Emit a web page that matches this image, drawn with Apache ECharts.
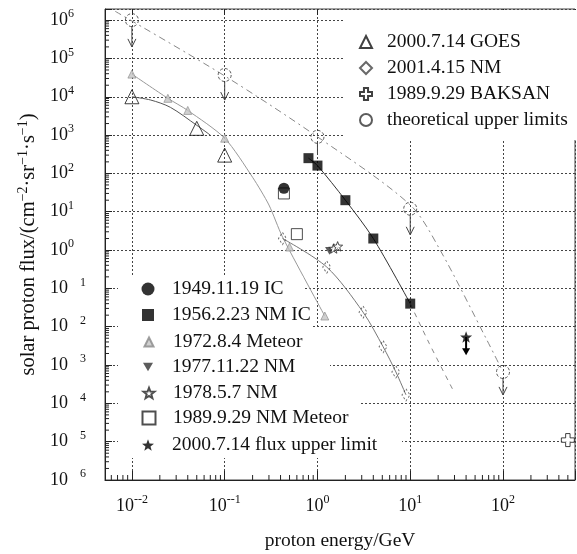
<!DOCTYPE html>
<html><head><meta charset="utf-8">
<script src="https://cdn.jsdelivr.net/npm/echarts@6/dist/echarts.min.js"></script>
<style>html,body{margin:0;padding:0;background:#fff}#c{width:577px;height:554px}</style>
</head><body><div id="c"></div>
<script>
// ---------- data (energy in GeV, flux in cm^-2 sr^-1 s^-1) ----------
const xTickExps = [-2, -1, 0, 1, 2];
const yTickExps = [6, 5, 4, 3, 2, 1, 0, -1, -2, -3, -4, -5, -6];

const goesE = [0.01, 0.05, 0.1];
const goesF = [1.0e4, 1.5e3, 300];
const goesFitE = [0.01, 0.016, 0.026, 0.05, 0.07];
const goesFitF = [1.0e4, 8.2e3, 5.3e3, 1.8e3, 1.0e3];

const meteorE = [0.01, 0.0244, 0.04, 0.1, 0.5, 1.2];
const meteorF = [3.9e4, 9.1e3, 4.4e3, 830, 1.2, 0.019];
const meteorFitE = [0.01, 0.0244, 0.04, 0.1, 0.2, 0.3, 0.42, 1.2];
const meteorFitF = [3.9e4, 9.1e3, 4.4e3, 830, 79, 15, 2.2, 0.019];

const nmE = [0.42, 1.26, 3.1, 5.1, 7.0, 9.0];
const nmF = [2.0, 0.36, 0.024, 3.0e-3, 6.6e-4, 1.66e-4];

const icE = [0.8, 1.0, 2.0, 4.0, 10];
const icF = [250, 160, 20, 2.0, 0.04];
const icExtE = [10, 16, 29];
const icExtF = [0.04, 3.7e-3, 2.2e-4];

const thE = [0.01, 0.1, 1, 10, 100];
const thF = [1.0e6, 3.7e4, 900, 12, 6.6e-4];
const thArrowF = [2.0e5, 8.2e3, 340, 2.5, 1.66e-4];
const thHead = [1, 1, 0, 1, 1];
const thLineE = [0.0066, 0.1, 1, 10, 21, 67, 100];
const thLineF = [1.7e6, 3.5e4, 900, 15, 1.0, 4.5e-3, 6.6e-4];

const ic1949E = [0.435];
const ic1949F = [41];
const nmMet1989E = [0.435, 0.6];
const nmMet1989F = [30, 2.6];
const nm1977E = [1.35];
const nm1977F = [0.95];
const nm1978E = [1.5, 1.65];
const nm1978F = [1.1, 1.25];
const baksanE = [500];
const baksanF = [1.1e-5];
const limitE = [40];
const limitF = [5.4e-3];
const limitLowF = [1.8e-3];

// ---------- helpers ----------
const L = Math.log10;
const pts = (E, F) => E.map((e, i) => [L(e), L(F[i])]);
const X_MIN = -2.29, X_MAX = 2.776, Y_MIN = -6, Y_MAX = 6.29;
const FONT = '"Liberation Serif", "Times New Roman", serif';
const TXT = '#111';

const STAR = 'path://M50 0L62.3 33L97.6 34.5L69.9 56.5L79.4 90.5L50 71L20.6 90.5L30.1 56.5L2.4 34.5L37.7 33Z';
const PLUS = 'path://M33 0H67V33H100V67H67V100H33V67H0V33H33Z';
const DOWNTRI = 'path://M0 0H100L50 87Z';

const isInt = v => Math.abs(v - Math.round(v)) < 1e-6;
const xFmt = v => {
  if (!isInt(v)) return '';
  const e = Math.round(v);
  if (xTickExps.indexOf(e) < 0) return '';
  return e < 0 ? '{b|10}{s|--' + (-e) + '}' : '{b|10}{s|' + e + '}';
};
const yFmt = v => {
  if (!isInt(v)) return '';
  const e = Math.round(v);
  if (yTickExps.indexOf(e) < 0) return '';
  return e < 0 ? '{b|10}{g|' + (-e) + '}' : '{b|10}{s|' + e + '}';
};
const labelRich = {
  b: {fontFamily: FONT, fontSize: 18, color: TXT, lineHeight: 24},
  s: {fontFamily: FONT, fontSize: 12, color: TXT, verticalAlign: 'top'},
  g: {fontFamily: FONT, fontSize: 12, color: TXT, verticalAlign: 'top', padding: [0, 0, 0, 12]}
};

// minor log ticks
const minorX = [];
for (let k = -3; k <= 2; k++) for (let m = 2; m <= 9; m++) {
  const v = k + L(m); if (v > X_MIN && v < X_MAX) minorX.push([v, Y_MIN]);
}
const minorY = [];
for (let k = -6; k <= 6; k++) for (let m = 2; m <= 9; m++) {
  const v = k + L(m); if (v > Y_MIN && v < Y_MAX) minorY.push([X_MIN, v]);
}

const lineSeries = (name, E, F, color, type, smooth) => ({
  type: 'line', name, data: pts(E, F), showSymbol: false, symbol: 'none',
  smooth: smooth, silent: true, z: 2,
  lineStyle: {color, width: 1, type}
});
const scatter = (name, E, F, symbol, size, style) => ({
  type: 'scatter', name, data: pts(E, F), symbol, symbolSize: size, symbolKeepAspect: true,
  itemStyle: style, z: 5, silent: true
});
const NONE = 'rgba(0,0,0,0)';
const LEG_FS = 19.5;

const blItems = [
  {name: '1949.11.19 IC', cy: 289, r: 303, h: 13},
  {name: '1956.2.23 NM IC', cy: 315, r: 312, h: 12},
  {name: '1972.8.4 Meteor', cy: 342, r: 323, h: 9},
  {name: '1977.11.22 NM', cy: 367, r: 330, h: 10},
  {name: '1978.5.7 NM', cy: 393, r: 360, h: 11},
  {name: '1989.9.29 NM Meteor', cy: 418, r: 360, h: 13},
  {name: '2000.7.14 flux upper limit', cy: 445, r: 402, h: 12}
];
const legends = [{
  data: ['2000.7.14 GOES', '2001.4.15 NM', '1989.9.29 BAKSAN', 'theoretical upper limits'],
  orient: 'vertical', left: 345, top: 10, padding: [22, 7, 10, 14],
  itemWidth: 12, itemHeight: 12, itemGap: 6, backgroundColor: '#fff', symbolKeepAspect: true,
  selectedMode: false, z: 10,
  textStyle: {fontFamily: FONT, fontSize: LEG_FS, color: TXT, lineHeight: 20, width: 182, padding: [0, 0, 0, 10]}
}].concat(blItems.map(it => ({
  data: [it.name], orient: 'vertical', left: 118, top: it.cy - 13,
  padding: [3, 0, 3, 30 - it.h / 2],
  itemWidth: it.h, itemHeight: it.h, itemGap: 0, backgroundColor: '#fff', symbolKeepAspect: true,
  selectedMode: false, z: 10,
  textStyle: {fontFamily: FONT, fontSize: LEG_FS, color: TXT, lineHeight: 20, width: it.r - 172,
              padding: [0, 0, 0, 19 - it.h / 2]}
})));

const option = {
  animation: false,
  backgroundColor: '#fff',
  grid: {left: 105, right: 2, top: 9, bottom: 74, show: true, borderColor: '#444', borderWidth: 1,
         containLabel: false, outerBoundsMode: 'none'},
  legend: legends,
  xAxis: [{
    type: 'value', min: X_MIN, max: X_MAX, splitNumber: 5, position: 'bottom',
    name: 'proton energy/GeV', nameLocation: 'middle', nameGap: 51,
    nameTextStyle: {fontFamily: FONT, fontSize: 19.5, color: TXT},
    axisLine: {show: true, onZero: false, lineStyle: {color: '#222', width: 1}},
    axisTick: {show: true, inside: true, length: 9, lineStyle: {color: '#222'}},
    axisLabel: {formatter: xFmt, margin: 14, rich: labelRich, color: TXT, showMinLabel: true, showMaxLabel: true},
    splitLine: {show: true, lineStyle: {color: '#444', type: [2, 2], width: 1}}
  }, {
    type: 'value', min: X_MIN, max: X_MAX, splitNumber: 5, position: 'top',
    axisLine: {show: false, onZero: false},
    axisTick: {show: true, inside: true, length: 6, lineStyle: {color: '#222'}},
    axisLabel: {show: false}, splitLine: {show: false}
  }],
  yAxis: {
    type: 'value', min: Y_MIN, max: Y_MAX, interval: 1,
    name: '{t|solar proton flux/(cm}{s|−2}{t|·sr}{s|−1}{t|·s}{s|−1}{t|)}',
    nameLocation: 'middle', nameGap: 64, nameRotate: 90,
    nameTextStyle: {rich: {
      t: {fontFamily: FONT, fontSize: 20.5, color: TXT, lineHeight: 24},
      s: {fontFamily: FONT, fontSize: 14, color: TXT, verticalAlign: 'top'}
    }},
    axisLine: {show: true, onZero: false, lineStyle: {color: '#222', width: 1}},
    axisTick: {show: true, inside: true, length: 7, lineStyle: {color: '#222'}},
    axisLabel: {formatter: yFmt, align: 'left', margin: 55, rich: labelRich, color: TXT},
    splitLine: {show: true, lineStyle: {color: '#444', type: [2, 2], width: 1}}
  },
  series: [
    {type: 'custom', name: 'minorX', data: minorX, silent: true, z: 1, clip: false,
     renderItem: (p, api) => {
       const c = api.coord([api.value(0), api.value(1)]);
       return {type: 'line', shape: {x1: c[0], y1: c[1], x2: c[0], y2: c[1] - 5}, style: {stroke: '#222', lineWidth: 1}};
     }},
    {type: 'custom', name: 'minorY', data: minorY, silent: true, z: 1, clip: false,
     renderItem: (p, api) => {
       const c = api.coord([api.value(0), api.value(1)]);
       return {type: 'line', shape: {x1: c[0], y1: c[1], x2: c[0] + 4, y2: c[1]}, style: {stroke: '#222', lineWidth: 1}};
     }},
    lineSeries('theory-line', thLineE, thLineF, '#888', [7, 4, 2, 4], 0.3),
    lineSeries('goes-fit', goesFitE, goesFitF, '#555', 'solid', 0.3),
    lineSeries('meteor-fit', meteorFitE, meteorFitF, '#999', 'solid', 0.25),
    lineSeries('nm-fit', nmE, nmF, '#777', 'solid', 0.3),
    lineSeries('ic-fit', icE, icF, '#333', 'solid', 0.3),
    lineSeries('ic-ext', icExtE, icExtF, '#888', [5, 5], 0.3),
    {type: 'custom', name: 'th-arrows', silent: true, z: 3,
     data: thE.map((e, i) => [L(e), L(thF[i]), L(thArrowF[i]), thHead[i]]),
     encode: {x: 0, y: 1},
     renderItem: (p, api) => {
       const a = api.coord([api.value(0), api.value(1)]);
       const b = api.coord([api.value(0), api.value(2)]);
       const ch = [{type: 'line', shape: {x1: a[0], y1: a[1] + 6, x2: b[0], y2: b[1]}, style: {stroke: '#444', lineWidth: 1}}];
       if (api.value(3)) ch.push({type: 'polyline', shape: {points: [[b[0] - 4, b[1] - 8], [b[0], b[1]], [b[0] + 4, b[1] - 8]]},
                                  style: {stroke: '#444', fill: null, lineWidth: 1}});
       return {type: 'group', children: ch};
     }},
    {type: 'custom', name: 'limit-bar', silent: true, z: 3,
     data: limitE.map((e, i) => [L(e), L(limitF[i]), L(limitLowF[i])]),
     encode: {x: 0, y: 1},
     renderItem: (p, api) => {
       const a = api.coord([api.value(0), api.value(1)]);
       const b = api.coord([api.value(0), api.value(2)]);
       return {type: 'group', children: [
         {type: 'line', shape: {x1: a[0], y1: a[1], x2: b[0], y2: b[1] - 4}, style: {stroke: '#000', lineWidth: 2}},
         {type: 'polygon', shape: {points: [[b[0] - 4, b[1] - 7], [b[0] + 4, b[1] - 7], [b[0], b[1]]]}, style: {fill: '#000'}}
       ]};
     }},
    scatter('theoretical upper limits', thE, thF, 'circle', 13,
            {color: NONE, borderColor: '#333', borderWidth: 1, borderType: [3, 2]}),
    scatter('2000.7.14 GOES', goesE, goesF, 'triangle', 14,
            {color: NONE, borderColor: '#111', borderWidth: 1}),
    scatter('1972.8.4 Meteor', meteorE, meteorF, 'triangle', 8,
            {color: '#c4c4c4', borderColor: '#888', borderWidth: 0.8}),
    scatter('2001.4.15 NM', nmE, nmF, 'diamond', [8, 12],
            {color: NONE, borderColor: '#444', borderWidth: 1, borderType: [2, 2]}),
    scatter('1956.2.23 NM IC', icE, icF, 'rect', 10, {color: '#000'}),
    scatter('1989.9.29 NM Meteor', nmMet1989E, nmMet1989F, 'rect', 11,
            {color: '#fff', borderColor: '#222', borderWidth: 1}),
    scatter('1949.11.19 IC', ic1949E, ic1949F, 'circle', 11, {color: '#000'}),
    scatter('1977.11.22 NM', nm1977E, nm1977F, DOWNTRI, 9, {color: '#333'}),
    scatter('1978.5.7 NM', nm1978E, nm1978F, STAR, 10,
            {color: '#fff', borderColor: '#222', borderWidth: 1}),
    scatter('1989.9.29 BAKSAN', baksanE, baksanF, PLUS, 13,
            {color: '#fff', borderColor: '#111', borderWidth: 1}),
    scatter('2000.7.14 flux upper limit', limitE, limitF, STAR, 12, {color: '#000'})
  ]
};
echarts.init(document.getElementById('c'), null, {renderer: 'canvas'}).setOption(option);
</script></body></html>
